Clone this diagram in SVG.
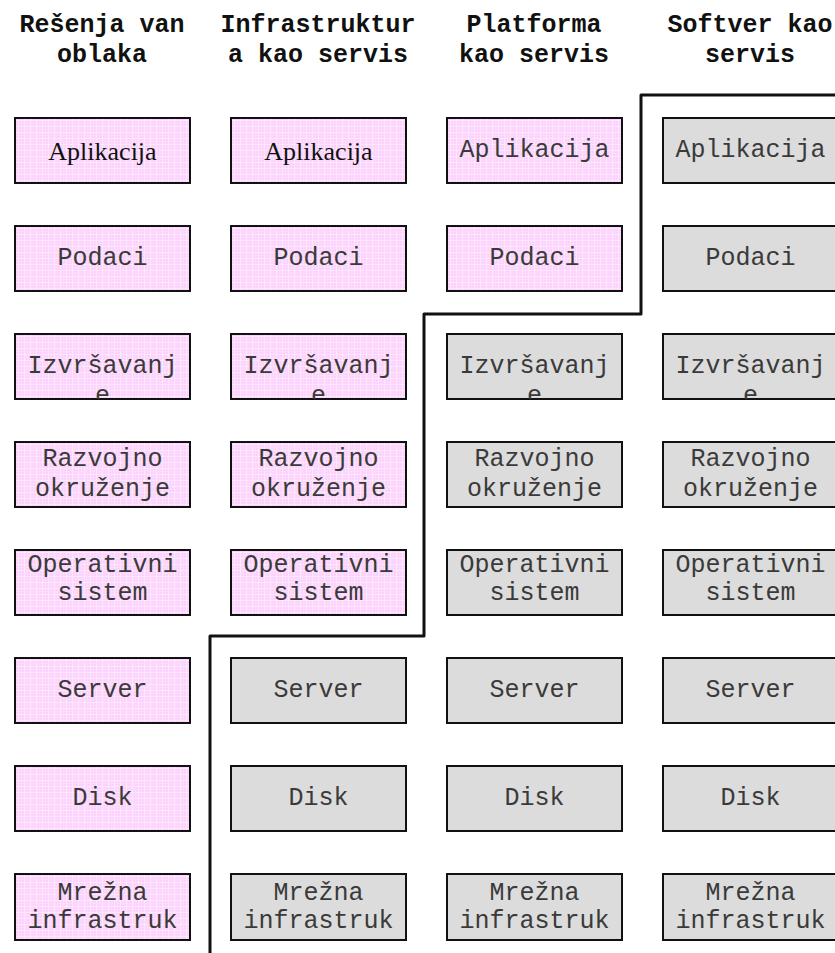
<svg xmlns="http://www.w3.org/2000/svg" width="835" height="953" viewBox="0 0 835 953">
  <style>
    .hdr { font-family: "Liberation Mono", "Courier New", monospace; font-weight: bold; font-size: 25px; fill: #111; text-anchor: middle; }
    .box { stroke: #111; stroke-width: 2; }
    .own { fill: url(#pinkGrid); }
    .svc { fill: #dcdcdc; }
    .lbl { font-family: "Liberation Mono", "Courier New", monospace; font-size: 25px; fill: #3a3a3a; text-anchor: middle; }
    .lbl-serif { font-family: "Liberation Serif", "Times New Roman", serif; font-size: 26px; fill: #111; text-anchor: middle; }
    .step { fill: none; stroke: #111; stroke-width: 3; stroke-linejoin: round; }
  </style>
  <defs>
    <pattern id="pinkGrid" width="6" height="6" patternUnits="userSpaceOnUse">
      <rect width="6" height="6" fill="#fbd2fb"/>
      <path d="M0 0.5 H6 M0.5 0 V6" stroke="#ffe8ff" stroke-width="1.2"/>
      <path d="M0 3.5 H6 M3.5 0 V6" stroke="#fcdcfc" stroke-width="0.8"/>
    </pattern>
    <clipPath id="clipRun1" clipPathUnits="userSpaceOnUse"><rect x="16" y="335" width="173" height="64"/></clipPath>
    <clipPath id="clipRun2" clipPathUnits="userSpaceOnUse"><rect x="232" y="335" width="173" height="64"/></clipPath>
    <clipPath id="clipRun3" clipPathUnits="userSpaceOnUse"><rect x="448" y="335" width="173" height="64"/></clipPath>
    <clipPath id="clipRun4" clipPathUnits="userSpaceOnUse"><rect x="664" y="335" width="173" height="64"/></clipPath>
  </defs>

  <rect width="835" height="953" fill="#fff"/>

  <!-- column headers -->
  <g id="headers">
    <text class="hdr" x="102" y="32">Rešenja van</text>
    <text class="hdr" x="102" y="62">oblaka</text>
    <text class="hdr" x="318" y="32">Infrastruktur</text>
    <text class="hdr" x="318" y="62">a kao servis</text>
    <text class="hdr" x="534" y="32">Platforma</text>
    <text class="hdr" x="534" y="62">kao servis</text>
    <text class="hdr" x="750" y="32">Softver kao</text>
    <text class="hdr" x="750" y="62">servis</text>
  </g>

  <!-- column 1: on-premises -->
  <g id="c1-app"><rect class="box own" x="15" y="118" width="175" height="65"/><text class="lbl-serif" x="102.5" y="160">Aplikacija</text></g>
  <g id="c1-data"><rect class="box own" x="15" y="226" width="175" height="65"/><text class="lbl" x="102.5" y="265">Podaci</text></g>
  <g id="c1-runtime"><rect class="box own" x="15" y="334" width="175" height="65"/><g clip-path="url(#clipRun1)"><text class="lbl" x="102.5" y="373">Izvršavanj</text><text class="lbl" x="102.5" y="403">e</text></g></g>
  <g id="c1-dev"><rect class="box own" x="15" y="442" width="175" height="65"/><text class="lbl" x="102.5" y="466">Razvojno</text><text class="lbl" x="102.5" y="496">okruženje</text></g>
  <g id="c1-os"><rect class="box own" x="15" y="550" width="175" height="65"/><text class="lbl" x="102.5" y="572">Operativni</text><text class="lbl" x="102.5" y="600">sistem</text></g>
  <g id="c1-server"><rect class="box own" x="15" y="658" width="175" height="65"/><text class="lbl" x="102.5" y="697">Server</text></g>
  <g id="c1-disk"><rect class="box own" x="15" y="766" width="175" height="65"/><text class="lbl" x="102.5" y="805">Disk</text></g>
  <g id="c1-net"><rect class="box own" x="15" y="874" width="175" height="66"/><text class="lbl" x="102.5" y="900">Mrežna</text><text class="lbl" x="102.5" y="928">infrastruk</text></g>

  <!-- column 2: IaaS -->
  <g id="c2-app"><rect class="box own" x="231" y="118" width="175" height="65"/><text class="lbl-serif" x="318.5" y="160">Aplikacija</text></g>
  <g id="c2-data"><rect class="box own" x="231" y="226" width="175" height="65"/><text class="lbl" x="318.5" y="265">Podaci</text></g>
  <g id="c2-runtime"><rect class="box own" x="231" y="334" width="175" height="65"/><g clip-path="url(#clipRun2)"><text class="lbl" x="318.5" y="373">Izvršavanj</text><text class="lbl" x="318.5" y="403">e</text></g></g>
  <g id="c2-dev"><rect class="box own" x="231" y="442" width="175" height="65"/><text class="lbl" x="318.5" y="466">Razvojno</text><text class="lbl" x="318.5" y="496">okruženje</text></g>
  <g id="c2-os"><rect class="box own" x="231" y="550" width="175" height="65"/><text class="lbl" x="318.5" y="572">Operativni</text><text class="lbl" x="318.5" y="600">sistem</text></g>
  <g id="c2-server"><rect class="box svc" x="231" y="658" width="175" height="65"/><text class="lbl" x="318.5" y="697">Server</text></g>
  <g id="c2-disk"><rect class="box svc" x="231" y="766" width="175" height="65"/><text class="lbl" x="318.5" y="805">Disk</text></g>
  <g id="c2-net"><rect class="box svc" x="231" y="874" width="175" height="66"/><text class="lbl" x="318.5" y="900">Mrežna</text><text class="lbl" x="318.5" y="928">infrastruk</text></g>

  <!-- column 3: PaaS -->
  <g id="c3-app"><rect class="box own" x="447" y="118" width="175" height="65"/><text class="lbl" x="534.5" y="157">Aplikacija</text></g>
  <g id="c3-data"><rect class="box own" x="447" y="226" width="175" height="65"/><text class="lbl" x="534.5" y="265">Podaci</text></g>
  <g id="c3-runtime"><rect class="box svc" x="447" y="334" width="175" height="65"/><g clip-path="url(#clipRun3)"><text class="lbl" x="534.5" y="373">Izvršavanj</text><text class="lbl" x="534.5" y="403">e</text></g></g>
  <g id="c3-dev"><rect class="box svc" x="447" y="442" width="175" height="65"/><text class="lbl" x="534.5" y="466">Razvojno</text><text class="lbl" x="534.5" y="496">okruženje</text></g>
  <g id="c3-os"><rect class="box svc" x="447" y="550" width="175" height="65"/><text class="lbl" x="534.5" y="572">Operativni</text><text class="lbl" x="534.5" y="600">sistem</text></g>
  <g id="c3-server"><rect class="box svc" x="447" y="658" width="175" height="65"/><text class="lbl" x="534.5" y="697">Server</text></g>
  <g id="c3-disk"><rect class="box svc" x="447" y="766" width="175" height="65"/><text class="lbl" x="534.5" y="805">Disk</text></g>
  <g id="c3-net"><rect class="box svc" x="447" y="874" width="175" height="66"/><text class="lbl" x="534.5" y="900">Mrežna</text><text class="lbl" x="534.5" y="928">infrastruk</text></g>

  <!-- column 4: SaaS -->
  <g id="c4-app"><rect class="box svc" x="663" y="118" width="175" height="65"/><text class="lbl" x="750.5" y="157">Aplikacija</text></g>
  <g id="c4-data"><rect class="box svc" x="663" y="226" width="175" height="65"/><text class="lbl" x="750.5" y="265">Podaci</text></g>
  <g id="c4-runtime"><rect class="box svc" x="663" y="334" width="175" height="65"/><g clip-path="url(#clipRun4)"><text class="lbl" x="750.5" y="373">Izvršavanj</text><text class="lbl" x="750.5" y="403">e</text></g></g>
  <g id="c4-dev"><rect class="box svc" x="663" y="442" width="175" height="65"/><text class="lbl" x="750.5" y="466">Razvojno</text><text class="lbl" x="750.5" y="496">okruženje</text></g>
  <g id="c4-os"><rect class="box svc" x="663" y="550" width="175" height="65"/><text class="lbl" x="750.5" y="572">Operativni</text><text class="lbl" x="750.5" y="600">sistem</text></g>
  <g id="c4-server"><rect class="box svc" x="663" y="658" width="175" height="65"/><text class="lbl" x="750.5" y="697">Server</text></g>
  <g id="c4-disk"><rect class="box svc" x="663" y="766" width="175" height="65"/><text class="lbl" x="750.5" y="805">Disk</text></g>
  <g id="c4-net"><rect class="box svc" x="663" y="874" width="175" height="66"/><text class="lbl" x="750.5" y="900">Mrežna</text><text class="lbl" x="750.5" y="928">infrastruk</text></g>

  <!-- staircase boundary between self-managed and provider-managed layers -->
  <g id="connectors">
    <path class="step" d="M835 95 H641 V314 H424 V636 H210 V953"/>
  </g>
</svg>
